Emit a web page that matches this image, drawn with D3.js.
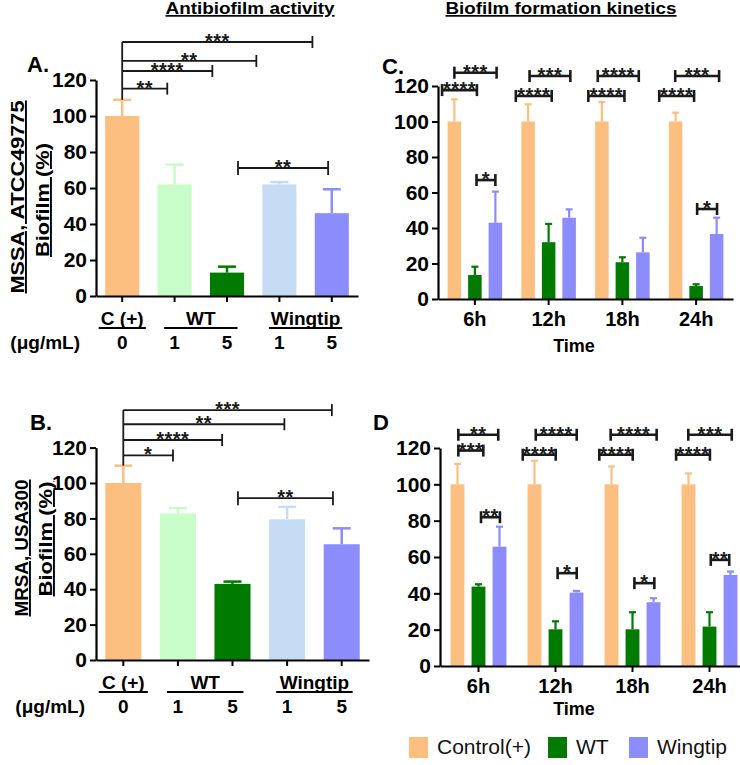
<!DOCTYPE html>
<html>
<head>
<meta charset="utf-8">
<script src="https://cdn.jsdelivr.net/npm/d3@7"></script>
<style>
  body { margin: 0; background: #fff; }
  text { font-family: 'Liberation Sans', Arial, sans-serif; }
</style>
</head>
<body>
<svg id="chart" width="740" height="765"></svg>
<script>
// ---- data ----
const yTicks = [0, 20, 40, 60, 80, 100, 120];

// dose panels (A, B): C(+), WT 1, WT 5, Wingtip 1, Wingtip 5
const doseLabels = ["0", "1", "5", "1", "5"];
const doseGroups = [
  {label: "C (+)", from: 0, to: 0},
  {label: "WT", from: 1, to: 2},
  {label: "Wingtip", from: 3, to: 4}
];
const mssaMean = [100, 62, 13, 62, 46];
const mssaSD = [9, 11, 3.3, 1.3, 13.3];
const mrsaMean = [100, 82.8, 43, 79.5, 65.4];
const mrsaSD = [9.8, 3, 1.3, 7, 9];

// significance brackets, positions in band steps from the first bar, heights in %
const mssaBrackets = [
  {from: 0, to: 0.86, y: 115.2, label: "**"},
  {from: 0, to: 1.72, y: 125, label: "****"},
  {from: 0, to: 2.56, y: 130.6, label: "**"},
  {from: 0, to: 3.63, y: 141.1, label: "***"}
];
const mssaPair = {from: 2.21, to: 3.93, y: 71.1, label: "**"};
const mrsaBrackets = [
  {from: 0, to: 0.91, y: 115.6, label: "*"},
  {from: 0, to: 1.81, y: 124.3, label: "****"},
  {from: 0, to: 2.95, y: 133.2, label: "**"},
  {from: 0, to: 3.82, y: 141.2, label: "***"}
];
const mrsaPair = {from: 2.1, to: 3.84, y: 91.4, label: "**"};

// kinetics panels (C, D)
const times = ["6h", "12h", "18h", "24h"];
const seriesNames = ["Control(+)", "WT", "Wingtip"];

const cControl = [100, 100, 100, 100];
const cControlSD = [12.5, 9.7, 11, 5];
const cWT = [13.5, 32, 20.7, 7.3];
const cWTSD = [4.7, 10.3, 2.8, 1];
const cWing = [43, 45.8, 26.3, 36.6];
const cWingSD = [17.5, 4.7, 8.2, 9.2];

const dControl = [100, 100, 100, 100];
const dControlSD = [11.3, 13, 9.8, 6];
const dWT = [43.7, 20.2, 20.2, 21.7];
const dWTSD = [1.3, 4.4, 9.4, 7.9];
const dWing = [65.7, 40.4, 35.1, 50.1];
const dWingSD = [11, 0.9, 2.2, 1.9];

// brackets: group index, ends in bar slots from the group centre, height in %
const cBrackets = [
  {g: 0, a: -1.6, b: 0.1, y: 117.7, label: "****"},
  {g: 0, a: -1.0, b: 1.06, y: 127.5, label: "***"},
  {g: 0, a: 0.08, b: 1.0, y: 67, label: "*"},
  {g: 1, a: -1.6, b: 0.15, y: 114.4, label: "****"},
  {g: 1, a: -0.93, b: 1.06, y: 125.6, label: "***"},
  {g: 2, a: -1.66, b: 0.1, y: 114.4, label: "****"},
  {g: 2, a: -1.2, b: 0.8, y: 125.6, label: "****"},
  {g: 3, a: -1.8, b: -0.1, y: 114.4, label: "****"},
  {g: 3, a: -1.02, b: 1.12, y: 125.6, label: "***"},
  {g: 3, a: 0.05, b: 1.02, y: 50.7, label: "*"}
];
const dBrackets = [
  {g: 0, a: -0.96, b: 0.94, y: 127.3, label: "**"},
  {g: 0, a: -0.96, b: 0.23, y: 118.6, label: "***"},
  {g: 0, a: 0.12, b: 1.02, y: 81.9, label: "**"},
  {g: 1, a: -1.56, b: 0.01, y: 116.3, label: "****"},
  {g: 1, a: -0.94, b: 1.01, y: 127.3, label: "****"},
  {g: 1, a: 0.1, b: 1.01, y: 51.1, label: "*"},
  {g: 2, a: -1.58, b: 0.01, y: 116.3, label: "****"},
  {g: 2, a: -1.04, b: 1.15, y: 127.3, label: "****"},
  {g: 2, a: 0.09, b: 1.04, y: 45.6, label: "*"},
  {g: 3, a: -1.59, b: 0.02, y: 116.3, label: "****"},
  {g: 3, a: -1.01, b: 1.06, y: 127.3, label: "***"},
  {g: 3, a: 0.06, b: 0.94, y: 58.4, label: "**"}
];

// ---- colours ----
const doseColors = ["#FDBF80", "#C8FCC8", "#007A00", "#C6DCF5", "#8C8CFC"];
const timeColors = ["#FDBF80", "#007A00", "#8C8CFC"];
const ink = "#1a1a1a";

const svg = d3.select("#chart");

function styleAxis(a, size) {
  a.attr("font-family", null).attr("font-size", size).attr("font-weight", "bold");
  a.select(".domain").attr("stroke", "#000").attr("stroke-width", 2.2);
  a.selectAll(".tick line").attr("stroke", "#000").attr("stroke-width", 2);
  a.selectAll(".tick text").attr("fill", "#000");
}

function drawYAxis(g, y, x0) {
  g.append("g")
    .attr("transform", "translate(" + x0 + ",0)")
    .call(d3.axisLeft(y).tickValues(yTicks).tickSize(6).tickSizeOuter(0).tickPadding(3))
    .call(a => styleAxis(a, 21));
}

function starText(g, x, y, label, size) {
  g.append("text")
    .attr("x", x).attr("y", y + 6)
    .attr("text-anchor", "middle")
    .attr("font-size", size).attr("font-weight", "bold")
    .attr("letter-spacing", 0.5)
    .attr("fill", ink)
    .text(label);
}

function yLabel(lines, xs, ys, lens) {
  lines.forEach((t, i) => {
    svg.append("text")
      .attr("transform", "translate(" + xs[i] + "," + ys[i] + ") rotate(-90)")
      .attr("text-anchor", "middle")
      .attr("font-size", 19).attr("font-weight", "bold")
      .attr("text-decoration", "underline")
      .attr("textLength", lens[i]).attr("lengthAdjust", "spacingAndGlyphs")
      .text(t);
  });
}

// ---- panels A and B ----
function dosePanel(c) {
  const g = svg.append("g");
  const x = d3.scaleBand().domain(d3.range(c.mean.length))
    .range([c.left, c.right]).paddingInner(c.pad).paddingOuter(c.pad / 2);
  const y = d3.scaleLinear().domain([0, 120]).range([c.bottom, c.top]);
  const cx = i => x(i) + x.bandwidth() / 2;
  const pos = s => cx(0) + s * x.step();

  g.selectAll("rect.bar").data(c.mean).join("rect")
    .attr("class", "bar")
    .attr("x", (d, i) => x(i))
    .attr("y", d => y(d))
    .attr("width", x.bandwidth())
    .attr("height", d => y(0) - y(d))
    .attr("fill", (d, i) => doseColors[i]);

  // upper error bars
  c.mean.forEach((m, i) => {
    const top = y(m + c.sd[i]);
    g.append("line").attr("x1", cx(i)).attr("x2", cx(i))
      .attr("y1", y(m)).attr("y2", top)
      .attr("stroke", doseColors[i]).attr("stroke-width", 2.5);
    g.append("line").attr("x1", cx(i) - 9).attr("x2", cx(i) + 9)
      .attr("y1", top).attr("y2", top)
      .attr("stroke", doseColors[i]).attr("stroke-width", 2.5);
  });

  g.append("g")
    .attr("transform", "translate(0," + c.bottom + ")")
    .call(d3.axisBottom(x).tickFormat("").tickSize(6).tickSizeOuter(0))
    .call(a => styleAxis(a, 18));
  drawYAxis(g, y, c.left);

  // dose labels and group lines
  g.selectAll("text.dose").data(doseLabels).join("text")
    .attr("class", "dose")
    .attr("x", (d, i) => cx(i)).attr("y", c.bottom + 53)
    .attr("text-anchor", "middle").attr("font-size", 19).attr("font-weight", "bold")
    .text(d => d);
  g.append("text")
    .attr("x", c.unitX).attr("y", c.bottom + 53)
    .attr("text-anchor", "end").attr("font-size", 19).attr("font-weight", "bold")
    .text("(μg/mL)");
  doseGroups.forEach(gr => {
    const ext = gr.from === gr.to ? 0.45 : 0.2;
    const x1 = cx(gr.from) - ext * x.step(), x2 = cx(gr.to) + ext * x.step();
    g.append("text")
      .attr("x", (x1 + x2) / 2).attr("y", c.bottom + 29)
      .attr("text-anchor", "middle").attr("font-size", 19).attr("font-weight", "bold")
      .text(gr.label);
    g.append("line").attr("x1", x1).attr("x2", x2)
      .attr("y1", c.bottom + 32).attr("y2", c.bottom + 32)
      .attr("stroke", "#000").attr("stroke-width", 2);
  });

  // brackets from the control bar
  const topY = y(d3.max(c.brackets, b => b.y));
  g.append("line").attr("x1", cx(0)).attr("x2", cx(0))
    .attr("y1", topY).attr("y2", y(c.mean[0] + c.sd[0]))
    .attr("stroke", ink).attr("stroke-width", 1.8);
  c.brackets.forEach(b => {
    const yy = y(b.y);
    g.append("line").attr("x1", pos(b.from)).attr("x2", pos(b.to))
      .attr("y1", yy).attr("y2", yy).attr("stroke", ink).attr("stroke-width", 1.8);
    g.append("line").attr("x1", pos(b.to)).attr("x2", pos(b.to))
      .attr("y1", yy - 6).attr("y2", yy + 6).attr("stroke", ink).attr("stroke-width", 1.8);
    starText(g, (pos(b.from) + pos(b.to)) / 2, yy, b.label, 20);
  });
  const p = c.pair, py = y(p.y);
  g.append("line").attr("x1", pos(p.from)).attr("x2", pos(p.to))
    .attr("y1", py).attr("y2", py).attr("stroke", ink).attr("stroke-width", 1.8);
  [p.from, p.to].forEach(s => {
    g.append("line").attr("x1", pos(s)).attr("x2", pos(s))
      .attr("y1", py - 7).attr("y2", py + 7).attr("stroke", ink).attr("stroke-width", 1.8);
  });
  starText(g, (pos(p.from) + pos(p.to)) / 2, py, p.label, 20);
}

// ---- panels C and D ----
function timePanel(c) {
  const g = svg.append("g");
  const x = d3.scaleBand().domain(times).range([c.left, c.right]).padding(0);
  const slot = d3.scaleBand().domain(d3.range(3))
    .range([-c.slotStep * 1.5, c.slotStep * 1.5]).paddingInner(0.34).paddingOuter(0.17);
  const y = d3.scaleLinear().domain([0, 120]).range([c.bottom, c.top]);
  const gc = i => x(times[i]) + x.bandwidth() / 2;

  const rows = [];
  c.series.forEach((s, k) => s.mean.forEach((m, i) => rows.push({k, i, m, sd: s.sd[i]})));

  g.selectAll("rect.bar").data(rows).join("rect")
    .attr("class", "bar")
    .attr("x", d => gc(d.i) + slot(d.k))
    .attr("y", d => y(d.m))
    .attr("width", slot.bandwidth())
    .attr("height", d => y(0) - y(d.m))
    .attr("fill", d => timeColors[d.k]);

  rows.forEach(d => {
    const xc = gc(d.i) + slot(d.k) + slot.bandwidth() / 2, top = y(d.m + d.sd);
    g.append("line").attr("x1", xc).attr("x2", xc).attr("y1", y(d.m)).attr("y2", top)
      .attr("stroke", timeColors[d.k]).attr("stroke-width", 2.2);
    g.append("line").attr("x1", xc - 3.5).attr("x2", xc + 3.5).attr("y1", top).attr("y2", top)
      .attr("stroke", timeColors[d.k]).attr("stroke-width", 2.2);
  });

  g.append("g")
    .attr("transform", "translate(0," + c.bottom + ")")
    .call(d3.axisBottom(x).tickSize(6).tickSizeOuter(0).tickPadding(7))
    .call(a => styleAxis(a, 20));
  drawYAxis(g, y, c.left);

  g.append("text").attr("x", 574).attr("y", c.bottom + c.timeDy)
    .attr("text-anchor", "middle").attr("font-size", 18).attr("font-weight", "bold")
    .text("Time");

  c.brackets.forEach(b => {
    const x1 = gc(b.g) + b.a * slot.step(), x2 = gc(b.g) + b.b * slot.step(), yy = y(b.y);
    g.append("line").attr("x1", x1).attr("x2", x2).attr("y1", yy).attr("y2", yy)
      .attr("stroke", ink).attr("stroke-width", 2.6);
    [x1, x2].forEach(xx => {
      g.append("line").attr("x1", xx).attr("x2", xx).attr("y1", yy - 6).attr("y2", yy + 6)
        .attr("stroke", ink).attr("stroke-width", 2.6);
    });
    starText(g, (x1 + x2) / 2, yy, b.label, 20);
  });
}

dosePanel({left: 96, right: 358, top: 80, bottom: 296, pad: 0.35, unitX: 80,
  mean: mssaMean, sd: mssaSD, brackets: mssaBrackets, pair: mssaPair});
dosePanel({left: 96, right: 369, top: 447.6, bottom: 660, pad: 0.34, unitX: 85,
  mean: mrsaMean, sd: mrsaSD, brackets: mrsaBrackets, pair: mrsaPair});

timePanel({left: 438, right: 733, top: 86, bottom: 299, slotStep: 20.5, timeDy: 53,
  series: [{mean: cControl, sd: cControlSD}, {mean: cWT, sd: cWTSD}, {mean: cWing, sd: cWingSD}],
  brackets: cBrackets});
timePanel({left: 440, right: 748, top: 448, bottom: 666, slotStep: 21, timeDy: 49,
  series: [{mean: dControl, sd: dControlSD}, {mean: dWT, sd: dWTSD}, {mean: dWing, sd: dWingSD}],
  brackets: dBrackets});

// ---- titles, labels, legend ----
[["Antibiofilm activity", 250, 169], ["Biofilm formation kinetics", 561, 231]].forEach(t => {
  svg.append("text").attr("x", t[1]).attr("y", 14)
    .attr("text-anchor", "middle").attr("font-size", 17).attr("font-weight", "bold")
    .attr("text-decoration", "underline")
    .attr("textLength", t[2]).attr("lengthAdjust", "spacingAndGlyphs")
    .text(t[0]);
});

[["A.", 27, 72], ["B.", 30, 430], ["C.", 382, 74], ["D", 373, 430]].forEach(t => {
  svg.append("text").attr("x", t[1]).attr("y", t[2])
    .attr("font-size", 22).attr("font-weight", "bold").text(t[0]);
});

yLabel(["MSSA, ATCC49775", "Biofilm (%)"], [24, 49], [197, 200], [193, 114]);
yLabel(["MRSA, USA300", "Biofilm (%)"], [28, 52], [548, 539], [137, 115]);

const legendX = [409, 548, 629];
seriesNames.forEach((n, i) => {
  svg.append("rect").attr("x", legendX[i]).attr("y", 737)
    .attr("width", 19).attr("height", 21).attr("fill", timeColors[i]);
  svg.append("text").attr("x", legendX[i] + 28).attr("y", 754)
    .attr("font-size", 21).attr("fill", "#111").text(n);
});
</script>
</body>
</html>
